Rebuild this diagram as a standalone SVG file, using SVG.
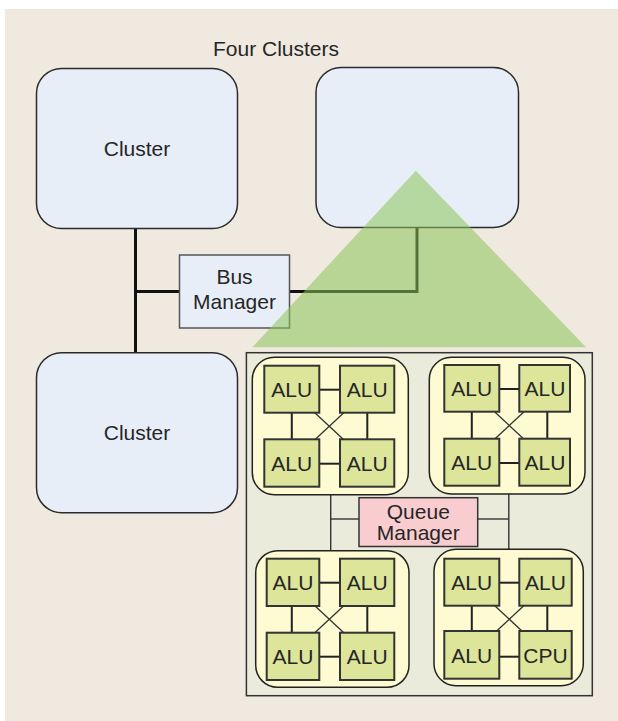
<svg xmlns="http://www.w3.org/2000/svg" width="618" height="721" viewBox="0 0 618 721">
  <style>
    .t { font-family: "Liberation Sans", Arial, sans-serif; font-size: 21px; fill: #262626; text-anchor: middle; }
    .alu-t { font-family: "Liberation Sans", Arial, sans-serif; font-size: 21px; fill: #262626; text-anchor: middle; }
    .cluster { fill: #e8eef7; stroke: #2b2b2b; stroke-width: 1.5; }
    .mgr { fill: #e8eef7; stroke: #555; stroke-width: 1.5; }
    .sub { fill: #fefad1; stroke: #222; stroke-width: 1.5; }
    .alu { fill: #dde59a; stroke: #333; stroke-width: 2; }
    .bus { fill: none; stroke: #111; stroke-width: 3; }
    .link { fill: none; stroke: #222; stroke-width: 2; }
    .diag { fill: none; stroke: #333; stroke-width: 1.3; }
    .qlink { fill: none; stroke: #333; stroke-width: 1.4; }
  </style>
  <defs>
    <g id="quad">
      <line class="link" x1="55" y1="24" x2="75" y2="24"/>
      <line class="link" x1="55" y1="98" x2="75" y2="98"/>
      <line class="link" x1="27.5" y1="47" x2="27.5" y2="74"/>
      <line class="link" x1="103" y1="47" x2="103" y2="74"/>
      <line class="diag" x1="50.5" y1="47" x2="79.5" y2="74"/>
      <line class="diag" x1="79.5" y1="47" x2="50.5" y2="74"/>
    </g>
  </defs>

  <rect x="5" y="9" width="613" height="712" fill="#f0e9e0"/>
  <text class="t" x="276" y="56">Four Clusters</text>

  <g id="connectors">
    <polyline class="bus" points="135.5,228 135.5,353"/>
    <polyline class="bus" points="135.5,291.5 180,291.5"/>
    <polyline class="bus" points="289.5,291.5 417,291.5 417,227"/>
  </g>

  <g id="cluster-tl">
    <rect class="cluster" x="36.5" y="68.5" width="201" height="160" rx="25"/>
    <text class="t" x="137" y="155.5">Cluster</text>
  </g>
  <g id="cluster-tr">
    <rect class="cluster" x="316" y="67.5" width="202.5" height="160" rx="25"/>
  </g>
  <g id="cluster-bl">
    <rect class="cluster" x="36.5" y="352.7" width="201" height="160" rx="25"/>
    <text class="t" x="137" y="440">Cluster</text>
  </g>
  <g id="bus-manager">
    <rect class="mgr" x="179.5" y="255" width="110" height="73"/>
    <text class="t" x="234.5" y="283.5">Bus</text>
    <text class="t" x="234.5" y="309">Manager</text>
  </g>

  <polygon id="zoom-triangle" points="415.8,170.7 586.1,347.3 252.3,347.3" fill="#8ac55a" fill-opacity="0.55"/>

  <g id="detail-panel">
    <rect x="246.4" y="352.7" width="345.9" height="343" fill="#ebebdc" stroke="#333" stroke-width="1.5"/>

    <g id="queue-links">
      <polyline class="qlink" points="330.7,494 330.7,551"/>
      <polyline class="qlink" points="508.8,494 508.8,550"/>
      <polyline class="qlink" points="330.7,519 359,519"/>
      <polyline class="qlink" points="477.7,519 508.8,519"/>
    </g>

    <g id="queue-manager">
      <rect x="359" y="497.7" width="118.7" height="48.8" fill="#f9ccd0" stroke="#333" stroke-width="1.5"/>
      <text class="t" x="418.3" y="518.5">Queue</text>
      <text class="t" x="418.3" y="539.5">Manager</text>
    </g>

    <g id="subcluster-tl">
      <rect class="sub" x="252.3" y="357.3" width="156" height="137.4" rx="22"/>
      <use href="#quad" x="264.3" y="365.7"/>
      <rect class="alu" x="264.3" y="365.7" width="55" height="47"/>
      <rect class="alu" x="340" y="365.7" width="54.3" height="47"/>
      <rect class="alu" x="264.3" y="439.3" width="55" height="47.4"/>
      <rect class="alu" x="340" y="439.3" width="54.3" height="47.4"/>
      <text class="alu-t" x="291.8" y="396.8">ALU</text>
      <text class="alu-t" x="367.2" y="396.8">ALU</text>
      <text class="alu-t" x="291.8" y="470.5">ALU</text>
      <text class="alu-t" x="367.2" y="470.5">ALU</text>
    </g>

    <g id="subcluster-tr">
      <rect class="sub" x="429.3" y="357.3" width="155.7" height="136.7" rx="22"/>
      <use href="#quad" x="444.3" y="365"/>
      <rect class="alu" x="444.3" y="365" width="55" height="46.7"/>
      <rect class="alu" x="519.3" y="365" width="50.7" height="46.7"/>
      <rect class="alu" x="444.3" y="438.7" width="55" height="47"/>
      <rect class="alu" x="519.3" y="438.7" width="50.7" height="47"/>
      <text class="alu-t" x="471.8" y="396">ALU</text>
      <text class="alu-t" x="545" y="396">ALU</text>
      <text class="alu-t" x="471.8" y="469.7">ALU</text>
      <text class="alu-t" x="545" y="469.7">ALU</text>
    </g>

    <g id="subcluster-bl">
      <rect class="sub" x="255.7" y="550.7" width="153.3" height="136.6" rx="22"/>
      <use href="#quad" x="264.3" y="558.7"/>
      <rect class="alu" x="266.7" y="558.7" width="52.6" height="47.3"/>
      <rect class="alu" x="340" y="558.7" width="54.3" height="47.3"/>
      <rect class="alu" x="266.7" y="632.7" width="52.6" height="47.3"/>
      <rect class="alu" x="340" y="632.7" width="54.3" height="47.3"/>
      <text class="alu-t" x="293" y="590">ALU</text>
      <text class="alu-t" x="367.2" y="590">ALU</text>
      <text class="alu-t" x="293" y="664">ALU</text>
      <text class="alu-t" x="367.2" y="664">ALU</text>
    </g>

    <g id="subcluster-br">
      <rect class="sub" x="434" y="549.3" width="149.3" height="136.4" rx="22"/>
      <use href="#quad" x="444.3" y="558.7"/>
      <rect class="alu" x="444.3" y="558.7" width="55" height="47"/>
      <rect class="alu" x="519.3" y="558.7" width="52.4" height="47"/>
      <rect class="alu" x="444.3" y="631" width="55" height="47.7"/>
      <rect class="alu" x="519.3" y="631" width="52.4" height="47.7"/>
      <text class="alu-t" x="471.8" y="590">ALU</text>
      <text class="alu-t" x="545.5" y="590">ALU</text>
      <text class="alu-t" x="471.8" y="662.5">ALU</text>
      <text class="alu-t" x="545.5" y="662.5">CPU</text>
    </g>
  </g>
</svg>
